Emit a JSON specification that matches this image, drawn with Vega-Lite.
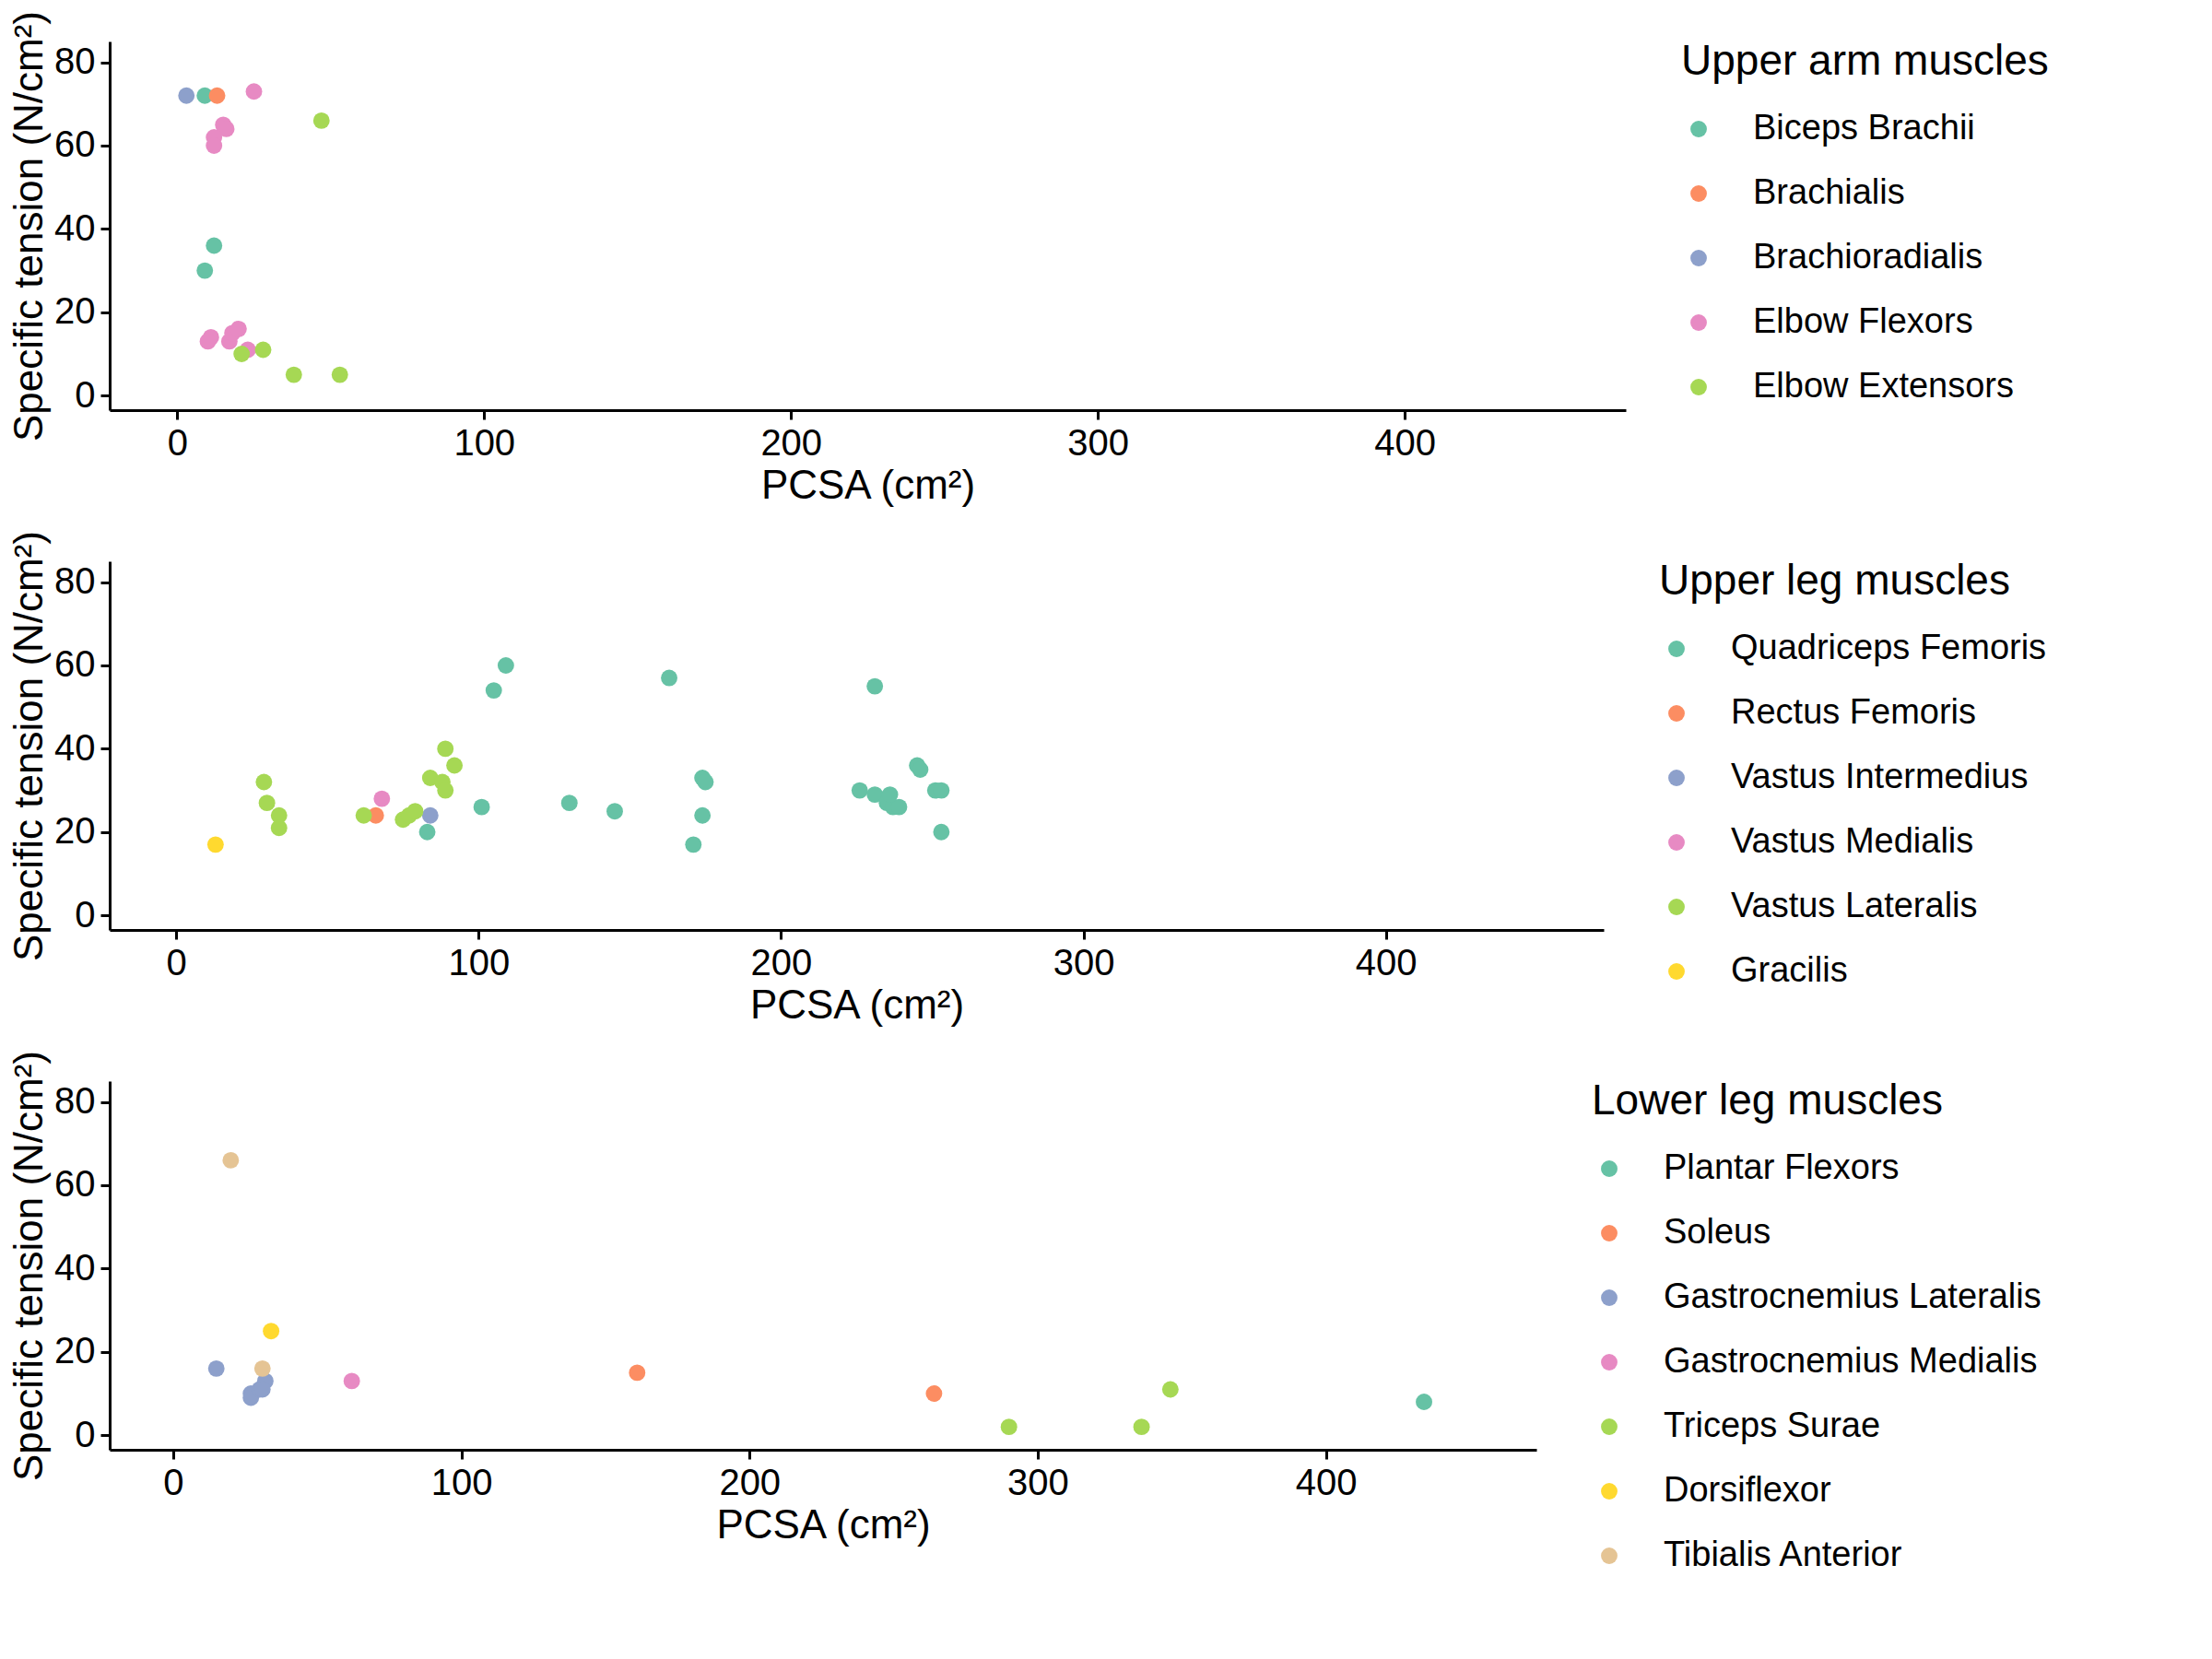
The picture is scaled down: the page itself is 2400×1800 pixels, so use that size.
{
"$schema":"https://vega.github.io/schema/vega-lite/v6.json",
"padding":{"left":10,"top":5,"right":5,"bottom":5},
"config":{"font":"Liberation Sans","view":{"stroke":null},
 "axis":{"grid":false,"domainColor":"black","domainWidth":3,"tickColor":"black","tickWidth":3,"tickSize":10,"labelFontSize":40,"labelColor":"black","titleFontSize":44,"titleFontWeight":"normal","titleColor":"black","labelPadding":6},
 "legend":{"titleFontSize":46,"titleFontWeight":"normal","titleColor":"black","labelFontSize":38,"labelColor":"black","symbolType":"circle","symbolSize":320,"rowPadding":32,"titlePadding":30,"labelOffset":40,"offset":60,"symbolStrokeWidth":0,"labelLimit":0,"titleLimit":0},
 "concat":{"spacing":20}},
"datasets":{
"arm":[
{"g":"Biceps Brachii","x":9,"y":72},{"g":"Biceps Brachii","x":9,"y":30},{"g":"Biceps Brachii","x":12,"y":36},
{"g":"Brachialis","x":13,"y":72},
{"g":"Brachioradialis","x":3,"y":72},
{"g":"Elbow Flexors","x":25,"y":73},{"g":"Elbow Flexors","x":15,"y":65},{"g":"Elbow Flexors","x":16,"y":64},{"g":"Elbow Flexors","x":12,"y":62},{"g":"Elbow Flexors","x":12,"y":60},{"g":"Elbow Flexors","x":11,"y":14},{"g":"Elbow Flexors","x":10,"y":13},{"g":"Elbow Flexors","x":17,"y":13},{"g":"Elbow Flexors","x":18,"y":15},{"g":"Elbow Flexors","x":20,"y":16},{"g":"Elbow Flexors","x":23,"y":11},
{"g":"Elbow Extensors","x":47,"y":66},{"g":"Elbow Extensors","x":21,"y":10},{"g":"Elbow Extensors","x":28,"y":11},{"g":"Elbow Extensors","x":38,"y":5},{"g":"Elbow Extensors","x":53,"y":5}],
"leg":[
{"g":"Quadriceps Femoris","x":109,"y":60},{"g":"Quadriceps Femoris","x":105,"y":54},{"g":"Quadriceps Femoris","x":163,"y":57},{"g":"Quadriceps Femoris","x":231,"y":55},{"g":"Quadriceps Femoris","x":101,"y":26},{"g":"Quadriceps Femoris","x":130,"y":27},{"g":"Quadriceps Femoris","x":145,"y":25},{"g":"Quadriceps Femoris","x":171,"y":17},{"g":"Quadriceps Femoris","x":174,"y":33},{"g":"Quadriceps Femoris","x":175,"y":32},{"g":"Quadriceps Femoris","x":174,"y":24},{"g":"Quadriceps Femoris","x":226,"y":30},{"g":"Quadriceps Femoris","x":231,"y":29},{"g":"Quadriceps Femoris","x":235,"y":27},{"g":"Quadriceps Femoris","x":237,"y":26},{"g":"Quadriceps Femoris","x":239,"y":26},{"g":"Quadriceps Femoris","x":245,"y":36},{"g":"Quadriceps Femoris","x":246,"y":35},{"g":"Quadriceps Femoris","x":251,"y":30},{"g":"Quadriceps Femoris","x":253,"y":30},{"g":"Quadriceps Femoris","x":253,"y":20},{"g":"Quadriceps Femoris","x":83,"y":20},{"g":"Quadriceps Femoris","x":236,"y":29},
{"g":"Rectus Femoris","x":66,"y":24},
{"g":"Vastus Intermedius","x":84,"y":24},
{"g":"Vastus Medialis","x":68,"y":28},
{"g":"Vastus Lateralis","x":29,"y":32},{"g":"Vastus Lateralis","x":30,"y":27},{"g":"Vastus Lateralis","x":34,"y":24},{"g":"Vastus Lateralis","x":34,"y":21},{"g":"Vastus Lateralis","x":62,"y":24},{"g":"Vastus Lateralis","x":75,"y":23},{"g":"Vastus Lateralis","x":77,"y":24},{"g":"Vastus Lateralis","x":79,"y":25},{"g":"Vastus Lateralis","x":84,"y":33},{"g":"Vastus Lateralis","x":88,"y":32},{"g":"Vastus Lateralis","x":89,"y":30},{"g":"Vastus Lateralis","x":89,"y":40},{"g":"Vastus Lateralis","x":92,"y":36},
{"g":"Gracilis","x":13,"y":17}],
"low":[
{"g":"Plantar Flexors","x":434,"y":8},
{"g":"Soleus","x":161,"y":15},{"g":"Soleus","x":264,"y":10},
{"g":"Gastrocnemius Lateralis","x":15,"y":16},{"g":"Gastrocnemius Lateralis","x":27,"y":10},{"g":"Gastrocnemius Lateralis","x":27,"y":9},{"g":"Gastrocnemius Lateralis","x":30,"y":11},{"g":"Gastrocnemius Lateralis","x":32,"y":13},{"g":"Gastrocnemius Lateralis","x":31,"y":11},
{"g":"Gastrocnemius Medialis","x":62,"y":13},
{"g":"Triceps Surae","x":290,"y":2},{"g":"Triceps Surae","x":336,"y":2},{"g":"Triceps Surae","x":346,"y":11},
{"g":"Dorsiflexor","x":34,"y":25},
{"g":"Tibialis Anterior","x":20,"y":66},{"g":"Tibialis Anterior","x":31,"y":16}]},
"resolve":{"scale":{"color":"independent"}},
"vconcat":[
{"data":{"name":"arm"},"width":1645,"height":400,"mark":{"type":"point","filled":true,"opacity":1,"size":320},
 "encoding":{"x":{"field":"x","type":"quantitative","title":"PCSA  (cm²)","scale":{"domain":[-22,472],"nice":false,"zero":false},"axis":{"values":[0,100,200,300,400]}},
 "y":{"field":"y","type":"quantitative","title":"Specific tension  (N/cm²)","scale":{"domain":[-3.5,85],"nice":false},"axis":{"values":[0,20,40,60,80]}},
 "color":{"field":"g","type":"nominal","title":"Upper arm  muscles","scale":{"domain":["Biceps Brachii","Brachialis","Brachioradialis","Elbow Flexors","Elbow Extensors"],"range":["#66c2a5","#fc8d62","#8da0cb","#e78ac3","#a6d854"]}}}},
{"data":{"name":"leg"},"width":1621,"height":400,"mark":{"type":"point","filled":true,"opacity":1,"size":320},
 "encoding":{"x":{"field":"x","type":"quantitative","title":"PCSA  (cm²)","scale":{"domain":[-22,472],"nice":false,"zero":false},"axis":{"values":[0,100,200,300,400]}},
 "y":{"field":"y","type":"quantitative","title":"Specific tension  (N/cm²)","scale":{"domain":[-3.5,85],"nice":false},"axis":{"values":[0,20,40,60,80]}},
 "color":{"field":"g","type":"nominal","title":"Upper leg  muscles","scale":{"domain":["Quadriceps Femoris","Rectus Femoris","Vastus Intermedius","Vastus Medialis","Vastus Lateralis","Gracilis"],"range":["#66c2a5","#fc8d62","#8da0cb","#e78ac3","#a6d854","#ffd92f"]}}}},
{"data":{"name":"low"},"width":1548,"height":400,"mark":{"type":"point","filled":true,"opacity":1,"size":320},
 "encoding":{"x":{"field":"x","type":"quantitative","title":"PCSA  (cm²)","scale":{"domain":[-22,473],"nice":false,"zero":false},"axis":{"values":[0,100,200,300,400]}},
 "y":{"field":"y","type":"quantitative","title":"Specific tension  (N/cm²)","scale":{"domain":[-3.5,85],"nice":false},"axis":{"values":[0,20,40,60,80]}},
 "color":{"field":"g","type":"nominal","title":"Lower leg  muscles","scale":{"domain":["Plantar Flexors","Soleus","Gastrocnemius Lateralis","Gastrocnemius Medialis","Triceps Surae","Dorsiflexor","Tibialis Anterior"],"range":["#66c2a5","#fc8d62","#8da0cb","#e78ac3","#a6d854","#ffd92f","#e5c494"]}}}}
]}
